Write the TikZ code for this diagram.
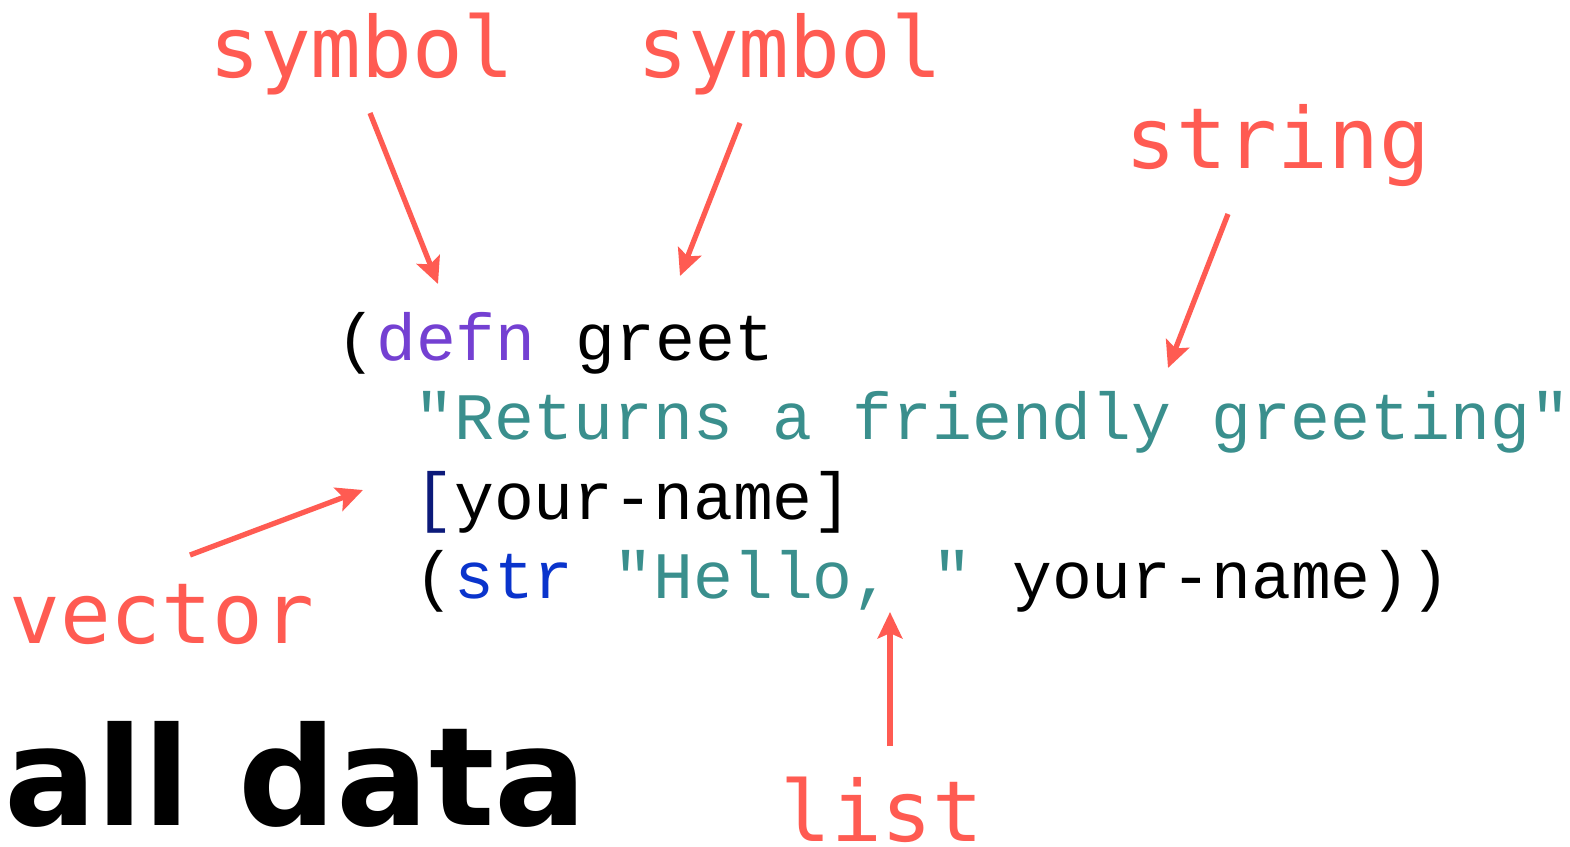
\documentclass[tikz,border=0pt]{standalone}
\usepackage{fontspec}
\setmonofont{Liberation Mono}
\newfontfamily\labelfont{DejaVu Sans Mono}
\newfontfamily\handfont{DejaVu Sans}
\usepackage{tikz}
\usetikzlibrary{arrows.meta, positioning}
\definecolor{notered}{HTML}{FF5B52}
\definecolor{kwpurple}{HTML}{7440D2}
\definecolor{strteal}{HTML}{3A8F8D}
\definecolor{fnblue}{HTML}{0A34CC}
\definecolor{brnavy}{HTML}{0C1A7A}
\tikzstyle{code} = [anchor=base west, inner sep=0pt, font=\ttfamily\fontsize{37.8}{40}\selectfont]
\tikzstyle{note} = [anchor=base west, inner sep=0pt, text=notered, font=\labelfont\fontsize{48}{50}\selectfont]
\tikzstyle{pointer} = [draw=notered, line width=3pt, -{Stealth[length=15pt, width=14pt, inset=3pt]}]

\begin{document}
\begin{tikzpicture}[x=0.02cm, y=-0.02cm]
			\useasboundingbox (0,0) rectangle (1570,846);

			\node [code] (l1) at (336, 360) {(\textcolor{kwpurple}{defn} greet};
			\node [code] (l2) at (414, 439) {\textcolor{strteal}{"Returns a friendly greeting"}};
			\node [code] (l3) at (414, 519) {\textcolor{brnavy}{[}your-name]};
			\node [code] (l4) at (414, 598) {(\textcolor{fnblue}{str} \textcolor{strteal}{"Hello, "} your-name))};

			\node [note] (sym1) at (209, 77) {symbol};
			\node [note] (sym2) at (637, 77) {symbol};
			\node [note] (strg) at (1125, 168) {string};
			\node [note] (vect) at (9, 643) {vector};
			\node [note] (lst) at (780, 841) {list};

			\node [anchor=base west, inner sep=0pt, font=\handfont\bfseries\fontsize{78}{80}\selectfont] (all) at (4, 825) {all data};

			\coordinate (sym1t) at (370, 113);
			\coordinate (sym1h) at (438, 284);
			\coordinate (sym2t) at (740, 123);
			\coordinate (sym2h) at (680, 276);
			\coordinate (strgt) at (1228, 214);
			\coordinate (strgh) at (1168, 368);
			\coordinate (vectt) at (190, 555);
			\coordinate (vecth) at (363, 490);
			\coordinate (lstt) at (890, 746);
			\coordinate (lsth) at (890, 612);

			\path [pointer] (sym1t) -- (sym1h);
			\path [pointer] (sym2t) -- (sym2h);
			\path [pointer] (strgt) -- (strgh);
			\path [pointer] (vectt) -- (vecth);
			\path [pointer] (lstt) -- (lsth);
		\end{tikzpicture}
\end{document}
